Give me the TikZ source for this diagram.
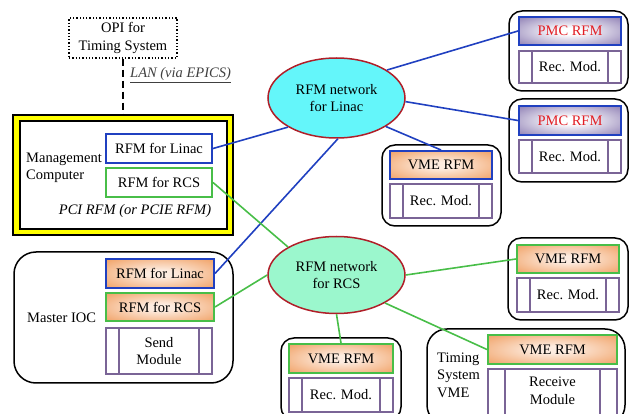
\documentclass[tikz,border=0pt]{standalone}
\usepackage{fontspec}
\setmainfont{Liberation Serif}
\usetikzlibrary{shapes.geometric}

\definecolor{linacblue}{RGB}{32,64,192}
\definecolor{rcsgreen}{RGB}{72,190,72}
\definecolor{modpurple}{RGB}{122,100,150}
\definecolor{netred}{RGB}{176,30,40}
\definecolor{linaccyan}{RGB}{100,246,250}
\definecolor{rcsaqua}{RGB}{155,247,205}
\definecolor{vmeorange}{RGB}{238,145,75}
\definecolor{vmelight}{RGB}{253,236,224}
\definecolor{pmcpurple}{RGB}{112,92,160}
\definecolor{pmcred}{RGB}{226,30,36}
\definecolor{mgmtyellow}{RGB}{255,255,0}
\definecolor{lantext}{RGB}{64,64,64}

\newcommand{\rfmfont}{\fontsize{14.5}{17.5}\selectfont}

\pgfdeclareradialshading{vmeshade}{\pgfpoint{0bp}{0bp}}{color(0bp)=(vmelight); color(6bp)=(vmelight); color(42bp)=(vmeorange); color(100bp)=(vmeorange)}
\pgfdeclareradialshading{pmcshade}{\pgfpoint{0bp}{0bp}}{color(0bp)=(white); color(6bp)=(white); color(44bp)=(pmcpurple); color(100bp)=(pmcpurple)}

\begin{document}
\begin{tikzpicture}[x=1pt, y=-1pt,
	every node/.style={font=\rfmfont, inner sep=0pt},
	wh/.style 2 args={minimum width=#1pt, minimum height=#2pt},
	crate/.style={draw, line width=1.5pt, rounded corners=13pt, rectangle},
	linacrfm/.style={draw=linacblue, line width=2pt},
	rcsrfm/.style={draw=rcsgreen, line width=2pt},
	vmefill/.style={shading=vmeshade},
	pmcfill/.style={shading=pmcshade, text=pmcred},
	modbox/.style={draw=modpurple, line width=1.5pt, fill=white,
		path picture={\draw[modpurple, line width=1.5pt]
			([xshift=#1]path picture bounding box.north west) -- ([xshift=#1]path picture bounding box.south west)
			([xshift=-#1]path picture bounding box.north east) -- ([xshift=-#1]path picture bounding box.south east);}},
	modbox/.default=13pt,
	net/.style={ellipse, draw=netred, line width=1.5pt, wh={137}{80}, align=center},
	linacline/.style={linacblue, line width=1.6pt},
	rcsline/.style={rcsgreen, line width=1.6pt},
	lanline/.style={line width=2pt, dash pattern=on 7pt off 4pt}]
	
	\clip (0,0) rectangle (630,414);
	
	% OPI
	\node[draw, dotted, line width=1.3pt, wh={108}{40}, align=center] (opi) at (123,38) {OPI for\\Timing System};
	\node[anchor=west, text=lantext, font=\rfmfont\itshape] (lan) at (130,75) {\underline{LAN (via EPICS)}};
	
	% management computer
	\node[draw, line width=1.5pt, fill=mgmtyellow, wh={220}{120}] (mgmt) at (123,175) {};
	\node[draw, line width=1.5pt, fill=white, wh={207}{108}] (mgmtin) at (123.5,175) {};
	\node[anchor=west, align=left] (mgmtlbl) at (26,168) {Management\\Computer};
	\node[linacrfm, fill=white, wh={106}{29}] (mlinac) at (159,148.5) {RFM for Linac};
	\node[rcsrfm, fill=white, wh={106}{29}] (mrcs) at (159,182.5) {RFM for RCS};
	\node[font=\rfmfont\itshape] (pci) at (135,211) {PCI RFM (or PCIE RFM)};
	
	% master IOC
	\node[crate, rounded corners=22pt, wh={219}{131}] (ioc) at (123.5,317.5) {};
	\node[anchor=west] (ioclbl) at (27,318) {Master IOC};
	\node[linacrfm, vmefill, wh={108}{29}] (ioclinac) at (160,273.5) {RFM for Linac};
	\node[rcsrfm, vmefill, wh={108}{28}] (iocrcs) at (160,307) {RFM for RCS};
	\node[modbox, wh={106}{46}, align=center] (send) at (159,351) {Send\\Module};
	
	% networks
	\node[net, fill=linaccyan] (netlinac) at (336.5,98) {RFM network\\for Linac};
	\node[net, fill=rcsaqua, wh={137}{77}] (netrcs) at (336.5,275) {RFM network\\for RCS};
	
	% Linac side crates
	\node[crate, wh={119}{80}] (crate1) at (568.5,51) {};
	\node[linacrfm, pmcfill, wh={102}{28}] (pmc1) at (570,31) {PMC RFM};
	\node[modbox, wh={102}{32}] (rec1) at (570,67) {Rec. Mod.};
	\node[crate, wh={119}{83}] (crate2) at (568.5,140.5) {};
	\node[linacrfm, pmcfill, wh={102}{29}] (pmc2) at (570,120.5) {PMC RFM};
	\node[modbox, wh={102}{33}] (rec2) at (570,156.5) {Rec. Mod.};
	\node[crate, wh={119}{81}] (crate3) at (441.5,185.5) {};
	\node[linacrfm, vmefill, wh={102}{28}] (vme1) at (441,165) {VME RFM};
	\node[modbox, wh={102}{34}] (rec3) at (441,201) {Rec. Mod.};
	
	% RCS side crates
	\node[crate, wh={120}{82}] (crate4) at (568,279) {};
	\node[rcsrfm, vmefill, wh={102}{28}] (vme2) at (568,259) {VME RFM};
	\node[modbox, wh={102}{34}] (rec4) at (568,295) {Rec. Mod.};
	\node[crate, wh={120}{82}] (crate5) at (341,379) {};
	\node[rcsrfm, vmefill, wh={104}{29}] (vme3) at (341,358.5) {VME RFM};
	\node[modbox, wh={104}{34}] (rec5) at (341,395) {Rec. Mod.};
	
	% timing system
	\node[crate, rounded corners=20pt, wh={198}{96}] (timing) at (526,377) {};
	\node[anchor=west, align=left] (timinglbl) at (437,375) {Timing\\System\\VME};
	\node[rcsrfm, vmefill, wh={129}{29}] (vme4) at (552.5,349.5) {VME RFM};
	\node[modbox=17pt, wh={129}{51}] (recv) at (552.5,394.5) {};
	\node[align=center] (recvtxt) at (552.5,391) {Receive\\Module};
	
	% links
	\draw[lanline] (opi.south) -- (mgmt.north);
	\draw[linacline] (mlinac.east) -- (netlinac.211);
	\draw[linacline] (ioclinac.east) -- (netlinac.272);
	\draw[linacline] (netlinac.29) -- (pmc1.west);
	\draw[linacline] (netlinac.-3) -- (pmc2.west);
	\draw[linacline] (netlinac.330) -- (vme1.north);
	\draw[rcsline] (mrcs.east) -- (netrcs.150);
	\draw[rcsline] (iocrcs.east) -- (netrcs.west);
	\draw[rcsline] (netrcs.east) -- (vme2.west);
	\draw[rcsline] (netrcs.south) -- (vme3.north);
	\draw[rcsline] (netrcs.330) -- (vme4.west);
	
\end{tikzpicture}
\end{document}
